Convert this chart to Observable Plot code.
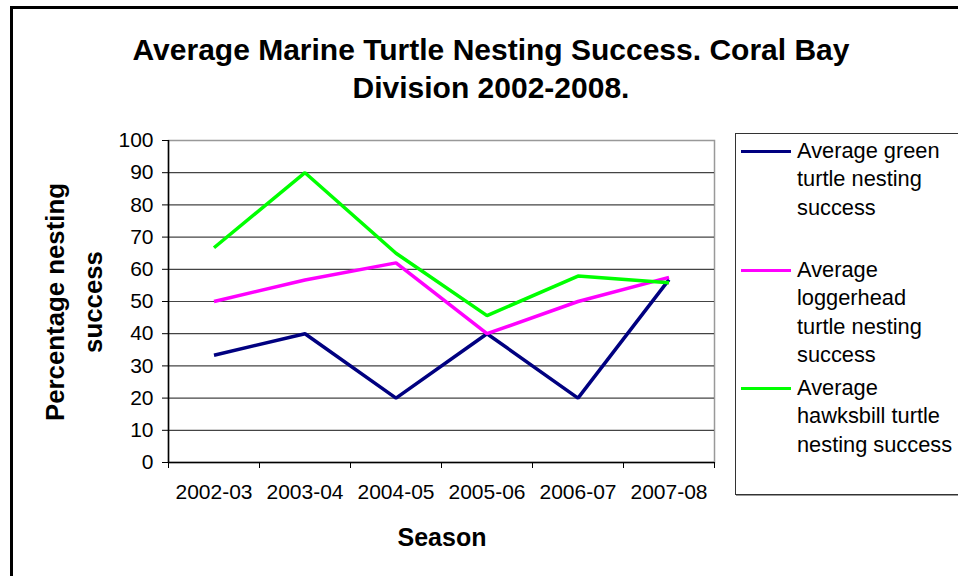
<!DOCTYPE html>
<html>
<head>
<meta charset="utf-8">
<script src="https://cdn.jsdelivr.net/npm/d3@7"></script>
<script src="https://cdn.jsdelivr.net/npm/@observablehq/plot@0.6"></script>
<style>
  html, body { margin: 0; padding: 0; background: #fff; overflow: hidden; }
  #wrap { position: relative; width: 958px; height: 576px; overflow: hidden; font-family: "Liberation Sans", Arial, sans-serif; color: #000; }
  #wrap svg { position: absolute; left: 0; top: 0; }
  .abs { position: absolute; }
</style>
</head>
<body>
<div id="wrap"></div>
<script>
const titleLines = ["Average Marine Turtle Nesting Success. Coral Bay", "Division 2002-2008."];
const xTitle = "Season";
const yTitleLines = ["Percentage nesting", "success"];
const seasons = ["2002-03", "2003-04", "2004-05", "2005-06", "2006-07", "2007-08"];
const yTicks = [0, 10, 20, 30, 40, 50, 60, 70, 80, 90, 100];
const greenValues = [33.3, 40, 20, 40, 20, 56.8];
const loggerheadValues = [50, 56.7, 62, 40, 50, 57.5];
const hawksbillValues = [66.7, 90, 65, 45.6, 57.9, 55.8];
const seriesNames = ["Average green turtle nesting success", "Average loggerhead turtle nesting success", "Average hawksbill turtle nesting success"];
const legendLines = [["Average green", "turtle nesting", "success"], ["Average", "loggerhead", "turtle nesting", "success"], ["Average", "hawksbill turtle", "nesting success"]];
const seriesColors = ["#000080", "#ff00ff", "#00ff00"];

const seriesValues = [greenValues, loggerheadValues, hawksbillValues];
const rows = [];
seriesValues.forEach((vals, s) => vals.forEach((v, i) => rows.push({series: seriesNames[s], i, season: seasons[i], value: v})));

const idx = d3.range(seasons.length);
const bounds = d3.range(seasons.length + 1).map(i => i - 0.5);

const chart = Plot.plot({
  width: 958,
  height: 576,
  marginLeft: 168,
  marginRight: 244,
  marginTop: 140,
  marginBottom: 114,
  style: {fontFamily: "'Liberation Sans', Arial, sans-serif", fontSize: "21px", background: "transparent", color: "#000"},
  x: {type: "linear", domain: [-0.5, seasons.length - 0.5]},
  y: {domain: [0, 100]},
  color: {domain: seriesNames, range: seriesColors},
  marks: [
    Plot.frame({stroke: "#999", strokeWidth: 1.5}),
    Plot.gridY(yTicks.slice(1, -1), {stroke: "#444", strokeOpacity: 1, strokeWidth: 1.2}),
    Plot.axisY(yTicks, {tickSize: 6, tickPadding: 9, label: null, stroke: "#000", fill: "#000", fontSize: 21}),
    Plot.axisX(idx, {tickSize: 0, tickPadding: 22, tickFormat: i => seasons[i], label: null, fill: "#000", fontSize: 21}),
    Plot.axisX(bounds, {tickSize: 6, tickFormat: () => "", label: null, stroke: "#000"}),
    Plot.ruleX([-0.5], {stroke: "#000", strokeWidth: 1.5}),
    Plot.ruleY([0], {stroke: "#000", strokeWidth: 1.5}),
    Plot.line(rows, {x: "i", y: "value", z: "series", stroke: "series", strokeWidth: 3.5, strokeLinejoin: "miter", strokeLinecap: "butt"})
  ]
});

const wrap = document.getElementById("wrap");
wrap.appendChild(chart);

function addDiv(css, html) {
  const d = document.createElement("div");
  d.className = "abs";
  d.style.cssText = css;
  d.innerHTML = html;
  wrap.appendChild(d);
  return d;
}

// outer border (left and top visible only)
addDiv("left:10px;top:6px;width:1000px;height:700px;border-left:3px solid #000;border-top:3px solid #000;", "");

// title
addDiv("left:0;top:31px;width:982px;text-align:center;font-weight:bold;font-size:30px;line-height:38px;", titleLines.join("<br>"));

// x title
addDiv("left:342px;top:521px;width:200px;text-align:center;font-weight:bold;font-size:25px;line-height:32px;", xTitle);

// y title (rotated)
addDiv("left:-76px;top:264px;width:300px;height:76px;text-align:center;font-weight:bold;font-size:25.8px;line-height:38px;transform:rotate(-90deg);transform-origin:150px 38px;", yTitleLines.join("<br>"));

// legend
addDiv("left:735px;top:133px;width:222px;height:360px;border:1px solid #333;box-shadow:1px 1px 0 #999;background:transparent;", "");
const entryCenters = [151, 270, 388];
legendLines.forEach((lines, s) => {
  const c = entryCenters[s];
  addDiv(`left:741px;top:${c - 1.5}px;width:50px;height:3.5px;background:${seriesColors[s]};`, "");
  addDiv(`left:797px;top:${c - 14}px;width:170px;font-size:21.8px;line-height:28.3px;white-space:nowrap;`, lines.join("<br>"));
});
</script>
</body>
</html>
